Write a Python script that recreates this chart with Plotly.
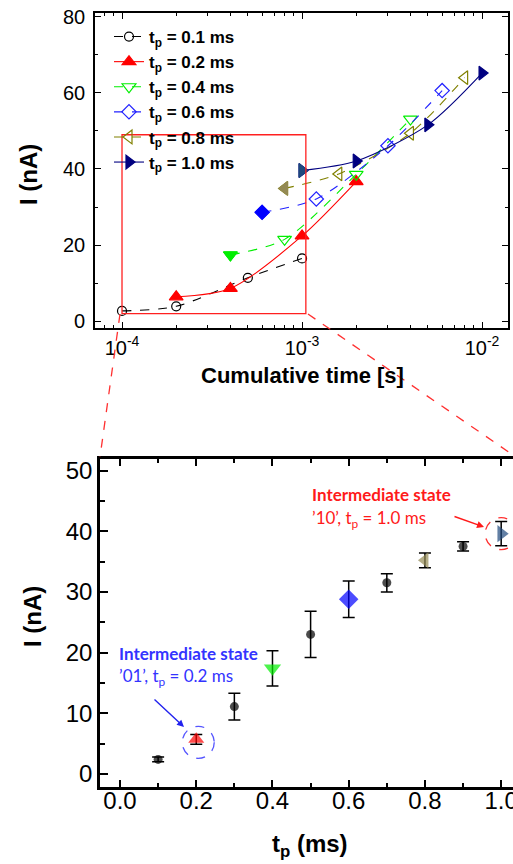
import plotly.graph_objects as go

# ---------------- data: top panel (cumulative time vs current) ----------------
series_names = ["0.1", "0.2", "0.4", "0.6", "0.8", "1.0"]
t_01 = [1e-4, 2e-4, 5e-4, 1e-3]
I_01 = [2.7, 3.9, 11.4, 16.5]
t_02 = [2e-4, 4e-4, 1e-3, 2e-3]
I_02 = [6.4, 8.6, 22.4, 36.7]
t_04 = [4e-4, 8e-4, 2e-3, 4e-3]
I_04 = [17.4, 21.5, 38.6, 53.1]
t_06 = [6e-4, 1.2e-3, 3e-3, 6e-3]
I_06 = [28.6, 32.1, 46.1, 60.6]
t_08 = [8e-4, 1.6e-3, 4e-3, 8e-3]
I_08 = [34.9, 38.7, 49.4, 64.0]
t_10 = [1e-3, 2e-3, 5e-3, 1e-2]
I_10 = [39.6, 42.1, 51.6, 65.2]

# zoom box on the top panel (data units)
zoom_box_t = [1e-4, 1.05e-3]
zoom_box_I = [2.0, 49.0]

# ---------------- data: bottom panel (pulse width vs current) ----------------
tp_ms = [0.1, 0.2, 0.3, 0.4, 0.5, 0.6, 0.7, 0.8, 0.9, 1.0]
I_mean = [2.4, 5.7, 11.1, 17.4, 23.0, 28.8, 31.5, 35.2, 37.5, 39.6]
I_err = [0.4, 0.8, 2.2, 2.9, 3.8, 3.0, 1.5, 1.2, 0.75, 2.0]

top_x_ticks = [1e-4, 1e-3, 1e-2]
top_x_ticktext = ["10<sup>-4</sup>", "10<sup>-3</sup>", "10<sup>-2</sup>"]

# ---------------- styles ----------------
W, H = 513, 864
FONT = "Arial, Liberation Sans, sans-serif"
NOTE_FONT = "Lato, Open Sans, sans-serif"

top_styles = [
    # (t, I, color, dash, symbol, size, first-point fill color)
    (t_01, I_01, "#000000", "dash", "circle-open", 9, None),
    (t_02, I_02, "#FF0000", "solid", "triangle-up", 12, None),
    (t_04, I_04, "#00EE00", "dash", "triangle-down-open", 12, "#00EE00"),
    (t_06, I_06, "#2222FF", "dash", "diamond-open", 11, "#0000FF"),
    (t_08, I_08, "#808000", "dash", "triangle-left-open", 12, "#948A54"),
    (t_10, I_10, "#000080", "solid", "triangle-right", 12, "#1F497D"),
]

bottom_symbols = ["circle", "triangle-up", "circle", "triangle-down", "circle",
                  "diamond", "circle", "triangle-left", "circle", "triangle-right"]
bottom_colors = ["#000000", "#FF0000", "#000000", "#00EE00", "#000000",
                 "#0000FF", "#000000", "#948A54", "#000000", "#1F497D"]
bottom_sizes = [9, 14, 9, 15, 9, 15, 9, 14, 9, 15]

fig = go.Figure()

for name, (t, I, col, dash, sym, size, fill) in zip(series_names, top_styles):
    fig.add_trace(go.Scatter(
        x=t, y=I, mode="lines+markers", xaxis="x", yaxis="y",
        name="<b>t<sub>p</sub> = %s ms</b>" % name,
        line=dict(color=col, dash=dash, width=1.1, shape="spline", smoothing=0.8),
        marker=dict(symbol=sym, size=size, color=col, line=dict(color=col, width=1.2)),
    ))
    if fill is not None:
        fig.add_trace(go.Scatter(
            x=t[:1], y=I[:1], mode="markers", xaxis="x", yaxis="y", showlegend=False,
            marker=dict(symbol=sym.replace("-open", ""), size=size, color=fill,
                        line=dict(color=fill, width=1)),
        ))

fig.add_trace(go.Scatter(
    x=tp_ms, y=I_mean, mode="markers", xaxis="x2", yaxis="y2", showlegend=False,
    error_y=dict(type="data", array=I_err, visible=True, color="black",
                 thickness=1.5, width=6),
    marker=dict(symbol=bottom_symbols, color=bottom_colors, size=bottom_sizes,
                line=dict(width=0)),
))

def px_x(px):
    return px / W

def px_y(py):
    return 1 - py / H

top_dom_x = [px_x(95), px_x(508)]
top_dom_y = [px_y(328), px_y(13)]
bot_dom_x = [px_x(100), 1.0]
bot_dom_y = [px_y(787), px_y(459)]

fig.update_layout(
    width=W, height=H,
    margin=dict(l=0, r=0, t=0, b=0, autoexpand=False),
    paper_bgcolor="white", plot_bgcolor="white",
    font=dict(family=FONT, color="black"),
    showlegend=True,
    legend=dict(x=px_x(109), y=px_y(19), xanchor="left", yanchor="top",
                bgcolor="rgba(0,0,0,0)", font=dict(size=17, family=FONT),
                itemwidth=30),
    xaxis=dict(domain=top_dom_x, anchor="y", type="log", range=[-4.15, -1.856],
               automargin=False,
               tickmode="array", tickvals=top_x_ticks, ticktext=top_x_ticktext,
               ticks="inside", ticklen=6, tickwidth=1.2, tickcolor="black",
               showline=True, linecolor="black", linewidth=1.6, mirror="ticks",
               showgrid=False, zeroline=False,
               tickfont=dict(size=20, family=FONT), ticklabelstandoff=1,
               minor=dict(ticks="inside", ticklen=3, tickcolor="black", dtick="D1",
                          showgrid=False)),
    yaxis=dict(domain=top_dom_y, anchor="x", range=[-1.8, 81], automargin=False,
               dtick=20, ticks="inside", ticklen=6, tickwidth=1.2, tickcolor="black",
               showline=True, linecolor="black", linewidth=1.6, mirror="ticks",
               showgrid=False, zeroline=False,
               tickfont=dict(size=20, family=FONT), ticklabelstandoff=4,
               minor=dict(ticks="inside", ticklen=3, dtick=10, tickcolor="black",
                          showgrid=False)),
    xaxis2=dict(domain=bot_dom_x, anchor="y2", range=[-0.0525, 1.031], automargin=False,
                dtick=0.2, tick0=0, tickformat=".1f", ticklabeloverflow="allow",
                ticks="inside", ticklen=7, tickwidth=1.5, tickcolor="black",
                showline=True, linecolor="black", linewidth=2.5, mirror="ticks",
                showgrid=False, zeroline=False,
                tickfont=dict(size=24, family=FONT), ticklabelstandoff=-10,
                minor=dict(ticks="inside", ticklen=4, dtick=0.1, tickcolor="black",
                           showgrid=False)),
    yaxis2=dict(domain=bot_dom_y, anchor="x2", range=[-2.15, 51.9], automargin=False,
                dtick=10, ticks="inside", ticklen=8, tickwidth=1.5, tickcolor="black",
                showline=True, linecolor="black", linewidth=2.5, mirror=False,
                showgrid=False, zeroline=False,
                tickfont=dict(size=24, family=FONT), ticklabelstandoff=0,
                minor=dict(ticks="inside", ticklen=5, dtick=5, tickcolor="black",
                           showgrid=False)),
)

shapes = [
    dict(type="rect", xref="x", yref="y", x0=zoom_box_t[0], x1=zoom_box_t[1],
         y0=zoom_box_I[0], y1=zoom_box_I[1], line=dict(color="#FF2020", width=1.3)),
    dict(type="line", xref="paper", yref="paper", x0=px_x(120), y0=px_y(314),
         x1=px_x(100), y1=px_y(457), line=dict(color="#FF3030", width=1.3, dash="dash")),
    dict(type="line", xref="paper", yref="paper", x0=px_x(308), y0=px_y(314),
         x1=px_x(513), y1=px_y(455), line=dict(color="#FF3030", width=1.3, dash="dash")),
    dict(type="circle", xref="x2", yref="y2", xsizemode="pixel", ysizemode="pixel",
         xanchor=tp_ms[1], yanchor=I_mean[1], x0=-14, x1=18, y0=-19, y1=13,
         line=dict(color="#5555FF", width=1.3, dash="dash")),
    dict(type="circle", xref="x2", yref="y2", xsizemode="pixel", ysizemode="pixel",
         xanchor=tp_ms[9], yanchor=I_mean[9], x0=-16, x1=16, y0=-16, y1=16,
         line=dict(color="#FF3030", width=1.3, dash="dash")),
]
fig.update_layout(shapes=shapes)

def label(text, x, y, size, angle=0, family=FONT, color="black", xanchor="center"):
    return dict(text=text, xref="paper", yref="paper", x=px_x(x), y=px_y(y),
                xanchor=xanchor, yanchor="middle", textangle=angle, showarrow=False,
                font=dict(size=size, family=family, color=color))

RED, BLUE = "#FF1A1A", "#3333FF"
annotations = [
    label("<b>I (nA)</b>", 28, 175, 24, angle=-90),
    label("<b>Cumulative time [s]</b>", 302, 375, 22),
    label("<b>I (nA)</b>", 32, 617, 24, angle=-90),
    label("<b>t<sub>p</sub> (ms)</b>", 310, 845, 24),
    label("<b>Intermediate state</b>", 310, 495, 17, family=NOTE_FONT, color=RED, xanchor="left"),
    label("’10’, t<sub>p</sub> = 1.0 ms", 310, 519, 17, family=NOTE_FONT, color=RED, xanchor="left"),
    dict(text="", xref="paper", yref="paper", x=px_x(484), y=px_y(527), ax=-31, ay=-11,
         showarrow=True, arrowhead=2, arrowsize=1, arrowwidth=1.4, arrowcolor=RED),
    label("<b>Intermediate state</b>", 117, 653, 17, family=NOTE_FONT, color=BLUE, xanchor="left"),
    label("’01’, t<sub>p</sub> = 0.2 ms", 117, 677, 17, family=NOTE_FONT, color=BLUE, xanchor="left"),
    dict(text="", xref="paper", yref="paper", x=px_x(184), y=px_y(727), ax=-31, ay=-29,
         showarrow=True, arrowhead=2, arrowsize=1, arrowwidth=1.4, arrowcolor="#2222EE"),
]
fig.update_layout(annotations=annotations)

fig.write_html(
    "out.html",
    config={"displayModeBar": False},
    post_script="document.body.style.margin='0';document.body.style.overflow='hidden';",
)
